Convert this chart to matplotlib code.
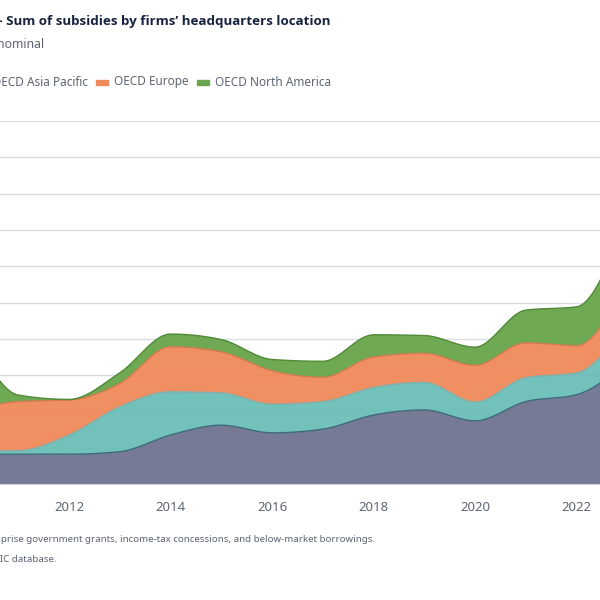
"""Stacked area chart: sum of subsidies by firms' headquarters location."""

import numpy as np
import matplotlib.pyplot as plt
from matplotlib.patches import Rectangle

plt.rcParams['font.family'] = ['Noto Sans', 'DejaVu Sans']

years = np.arange(2010, 2024)
other = [4.1, 4.1, 4.1, 4.45, 6.75, 8.1, 7.05, 7.55, 9.5, 10.2, 8.7, 11.35, 12.3, 16.8]
asia_pacific = [0.45, 0.5, 2.65, 6.2, 5.95, 4.45, 3.95, 3.8, 3.8, 3.8, 2.6, 3.3, 3.0, 5.5]
europe = [5.35, 6.75, 4.8, 3.2, 6.2, 5.65, 4.6, 3.35, 4.2, 4.0, 5.05, 4.8, 3.75, 5.8]
north_america = [12.3, 0.9, 0.1, 1.45, 1.75, 1.7, 1.55, 2.2, 3.05, 2.45, 2.5, 4.5, 5.35, 8.95]

series_names = ['Other economies', 'OECD Asia Pacific', 'OECD Europe', 'OECD North America']
fill_colors = ['#717590', '#6cbfb8', '#f08a5c', '#69a64d']
edge_colors = ['#3d6b7c', '#83ada6', '#d27a50', '#4f8a35']
x_ticks = [2012, 2014, 2016, 2018, 2020, 2022]


def monotone_curve(x, y, xs):
    """Monotone cubic curve through (x, y), evaluated at xs (like d3 monotoneX)."""
    x = np.asarray(x, float)
    y = np.asarray(y, float)
    h = np.diff(x)
    s = np.diff(y) / h
    m = np.zeros_like(y)
    for k in range(1, len(y) - 1):
        p = (s[k - 1] * h[k] + s[k] * h[k - 1]) / (h[k - 1] + h[k])
        m[k] = (np.sign(s[k - 1]) + np.sign(s[k])) * min(abs(s[k - 1]), abs(s[k]), 0.5 * abs(p))
    m[0] = (3 * s[0] - m[1]) / 2
    m[-1] = (3 * s[-1] - m[-2]) / 2
    idx = np.clip(np.searchsorted(x, xs) - 1, 0, len(x) - 2)
    t = (xs - x[idx]) / h[idx]
    h00 = 2 * t**3 - 3 * t**2 + 1
    h10 = t**3 - 2 * t**2 + t
    h01 = -2 * t**3 + 3 * t**2
    h11 = t**3 - t**2
    return (h00 * y[idx] + h10 * h[idx] * m[idx]
            + h01 * y[idx + 1] + h11 * h[idx] * m[idx + 1])


def main():
    fig = plt.figure(figsize=(6, 6), dpi=100)
    ax = fig.add_axes([-32.5 / 600, 116 / 600, 659.75 / 600, 363 / 600])

    layers = np.array([other, asia_pacific, europe, north_america])
    tops = np.cumsum(layers, axis=0)
    xs = np.linspace(years[0], years[-1], 800)
    lower = np.zeros_like(xs)
    for top, fc, ec in zip(tops, fill_colors, edge_colors):
        upper = monotone_curve(years, top, xs)
        ax.fill_between(xs, lower, upper, color=fc, lw=0, alpha=0.96, zorder=2)
        ax.plot(xs, upper, color=ec, lw=1, zorder=3)
        lower = upper

    ax.set_xlim(years[0], years[-1])
    ax.set_ylim(0, 50)
    ax.set_yticks(np.arange(0, 51, 5))
    ax.grid(axis='y', color='#d9dce3', lw=1, zorder=0)
    ax.set_axisbelow(True)
    ax.set_xticks(x_ticks)
    ax.set_xticklabels([str(y) for y in x_ticks])
    ax.tick_params(axis='x', length=0, pad=12, labelsize=9.5, labelcolor='#5d6573')
    ax.tick_params(axis='y', length=0, labelleft=False)
    for side in ['top', 'left', 'right']:
        ax.spines[side].set_visible(False)
    ax.spines['bottom'].set_color('#c8ccd6')

    # title and subtitle (left part cropped off like the reference)
    fig.text(331 / 600, 1 - 22 / 600, '– Sum of subsidies by firms’ headquarters location',
             ha='right', va='center', fontsize=9.6, fontweight='bold', color='#17223f',
             family=['Open Sans', 'DejaVu Sans'])
    fig.text(44 / 600, 1 - 45 / 600, 'USD billion, nominal', ha='right', va='center',
             fontsize=8.8, color='#5d6573')

    # legend row
    legend_y = 1 - 82 / 600
    fig.text(88 / 600, legend_y, series_names[1], ha='right', va='center',
             fontsize=8.5, color='#5d6573')
    for x0, name, fc in [(96, series_names[2], fill_colors[2]),
                         (197, series_names[3], fill_colors[3])]:
        fig.patches.append(Rectangle((x0 / 600, legend_y - 2.5 / 600), 12 / 600, 5 / 600,
                                     transform=fig.transFigure, color=fc))
        fig.text((x0 + 18) / 600, legend_y, name, ha='left', va='center',
                 fontsize=8.5, color='#5d6573')

    # notes
    fig.text(375 / 600, 1 - 540 / 600,
             'Note: Subsidies comprise government grants, income-tax concessions, '
             'and below-market borrowings.',
             ha='right', va='center', fontsize=7, color='#5d6573')
    fig.text(57 / 600, 1 - 559 / 600, 'Source: OECD MAGIC database.', ha='right',
             va='center', fontsize=7, color='#5d6573')

    fig.savefig('out.png', dpi=100)
    plt.close(fig)


if __name__ == '__main__':
    main()
